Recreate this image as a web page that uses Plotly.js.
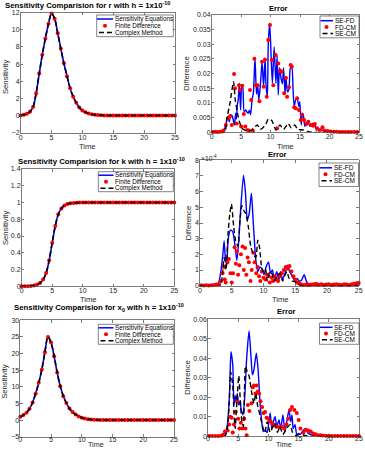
<!DOCTYPE html>
<html><head><meta charset="utf-8">
<script src="https://cdn.plot.ly/plotly-3.0.1.min.js"></script>
<style>html,body{margin:0;padding:0;background:#fff;} #chart{width:365px;height:450px;}</style>
</head><body><div id="chart"></div>
<script>
// ---------- DATA ----------
// common time grid for the sensitivity panels
const timeGrid = [0,0.5,1,1.5,2,2.5,3,3.5,4,4.5,5,5.5,6,6.5,7,7.5,8,8.5,9,9.5,10,10.5,11,11.5,12,12.5,13,13.5,14,14.5,15,15.5,16,16.5,17,17.5,18,18.5,19,19.5,20,20.5,21,21.5,22,22.5,23,23.5,24,24.5,25];
// sensitivity w.r.t. r (all three methods coincide)
const sensR = [0.02,0.08,0.2,0.45,1.0,2.6,4.9,7.1,9.0,10.7,11.9,11.3,9.6,7.8,6.1,4.6,3.2,2.2,1.5,0.95,0.6,0.38,0.24,0.15,0.09,0.06,0.04,0.02,0.01,0,0,0,0,0,0,0,0,0,0,0,0,0,0,0,0,0,0,0,0,0,0];
// sensitivity w.r.t. k
const sensK = [0,0,0.002,0.005,0.01,0.02,0.04,0.08,0.16,0.31,0.52,0.72,0.86,0.93,0.965,0.982,0.991,0.995,0.998,0.999,1,1,1,1,1,1,1,1,1,1,1,1,1,1,1,1,1,1,1,1,1,1,1,1,1,1,1,1,1,1,1];
// sensitivity w.r.t. x0
const sensX0 = [1.0,1.5,2.2,3.4,5.3,8.0,11.2,15.2,20.4,25.0,23.3,19.2,14.3,10.2,7.2,5.1,3.5,2.4,1.7,1.1,0.7,0.45,0.28,0.17,0.1,0.06,0.035,0.02,0.01,0,0,0,0,0,0,0,0,0,0,0,0,0,0,0,0,0,0,0,0,0,0];

// Error panel for r
const errR_SEFD_t = [0,1,1.8,2.1,2.4,2.7,3.0,3.2,3.5,3.85,4.07,4.2,4.35,4.5,4.7,4.9,5.1,5.3,5.5,5.8,6.0,6.2,6.4,6.6,6.85,7.07,7.35,7.6,7.8,8.0,8.26,8.55,8.8,9.05,9.2,9.45,9.6,9.85,10.1,10.3,10.6,10.9,11.1,11.3,11.5,11.8,12.0,12.2,12.45,12.6,12.85,13.1,13.35,13.6,13.8,14.0,14.25,14.5,14.8,14.95,15.2,15.4,15.55,15.8,16.0,16.3,16.7,17.1,17.5,17.8,18.4,19,20,21,25];
const errR_SEFD = [0,0,0.0001,0.0008,0.0025,0.0053,0.0036,0.006,0.0055,0.0025,0.0065,0.0045,0.0093,0.011,0.0167,0.0076,0.016,0.015,0.007,0.0076,0.0068,0.0065,0.0075,0.006,0.011,0.0133,0.0253,0.013,0.016,0.011,0.016,0.024,0.0155,0.025,0.0167,0.012,0.03,0.037,0.025,0.0167,0.029,0.0167,0.026,0.0127,0.022,0.018,0.0165,0.022,0.013,0.019,0.0138,0.0145,0.0218,0.022,0.015,0.0087,0.011,0.0115,0.0087,0.0104,0.0025,0.0065,0.006,0.002,0.003,0.0036,0.002,0.003,0.0025,0.0008,0.001,0.0005,0.0002,0.0001,0];
const errR_FDCM_t = [0.2,0.6,1.0,1.4,1.8,2.0,2.4,2.8,3.1,3.4,3.8,3.95,4.25,4.64,4.8,5.0,5.2,5.45,5.7,6.05,6.3,6.5,6.7,7.0,7.24,7.5,7.8,8.1,8.54,8.82,9.05,9.33,9.6,9.9,10.2,10.46,10.86,11.1,11.3,11.6,11.9,12.3,12.6,12.8,13.1,13.4,13.6,14.0,14.25,14.5,14.8,15.1,15.3,15.7,16.1,16.4,16.85,17.25,17.5,17.9,18.4,18.8,19.2,19.7,20.2,20.7,21.2,21.7,22.2,22.7,23.2,23.7,24.2,24.7];
const errR_FDCM = [0.0001,0.0002,0.0001,0.0002,0.0003,0.0006,0.0025,0.0048,0.0055,0.0025,0.0198,0.015,0.003,0.016,0.0144,0.002,0.0158,0.0062,0.002,0.0008,0.0006,0.0144,0.011,0.0005,0.025,0.016,0.016,0.0106,0.024,0.0155,0.0248,0.0121,0.0314,0.0365,0.0246,0.016,0.0263,0.0014,0.0234,0.021,0.0206,0.0133,0.0185,0.0121,0.0153,0.0229,0.0223,0.0085,0.0082,0.0116,0.0076,0.0042,0.0059,0.0042,0.0028,0.0036,0.0025,0.0022,0.0028,0.0014,0.0008,0.0017,0.0006,0.0004,0.0003,0.0002,0.0002,0.0001,0.0001,0.0001,0.0001,0.0001,0.0001,0.0001];
const errR_SECM_t = [0,2.2,2.55,3.1,3.7,4.0,4.5,5.1,5.6,6.2,6.8,7.1,7.75,8.2,8.5,9.2,9.6,10.2,10.9,11.6,12.2,13.0,13.5,14.1,14.6,15.5,16.2,17,25];
const errR_SECM = [0,0,0.0045,0.0099,0.0172,0.011,0.0053,0.0014,0.0008,0.0003,0.0008,0.0014,0.0025,0.001,0.0012,0.0028,0.0045,0.004,0.0008,0.0025,0.001,0.003,0.0015,0.0025,0.001,0.0008,0.0003,0,0];

// Error panel for k (values in units of 1e-4)
const errK_SEFD_t = [0,2.5,2.9,3.25,3.6,3.8,4.0,4.2,4.45,4.8,5.15,5.5,5.8,6.05,6.35,6.85,7.15,7.45,7.75,8.1,8.35,8.55,8.8,9.1,9.45,9.8,10.1,10.4,10.8,11.1,11.4,11.7,12.1,12.4,12.7,13.0,13.4,13.8,14.1,14.4,14.7,15.0,15.3,15.6,16.0,16.4,16.8,17.3,18,25];
const errK_SEFD = [0,0,0.15,0.8,2.0,2.85,1.75,1.4,3.0,3.55,3.45,2.6,1.6,2.6,4.5,7.05,6.0,4.2,4.6,5.9,4.3,3.0,1.6,0.9,1.2,1.05,0.7,1.2,1.5,0.8,1.0,0.47,0.9,0.35,0.9,0.4,0.8,1.3,0.9,0.7,0.47,0.25,0.47,0.3,0.35,0.7,0.25,0.08,0,0];
const errK_FDCM_t = [0.2,0.6,1.0,1.4,1.8,2.2,2.6,3.0,3.3,3.55,3.75,3.9,4.05,4.3,4.55,4.8,5.0,5.2,5.45,5.65,5.8,6.0,6.2,6.45,6.7,6.9,7.1,7.3,7.5,7.7,7.95,8.15,8.4,8.6,8.85,9.05,9.3,9.5,9.75,10.0,10.3,10.55,10.8,11.0,11.3,11.5,11.8,12.0,12.3,12.6,12.9,13.2,13.5,13.8,14.1,14.4,14.7,15.0,15.3,15.6,15.9,16.3,16.7,17.1,17.5,17.9,18.3,18.7,19.1,19.5,19.9,20.3,20.7,21.1,21.5,21.9,22.3,22.7,23.1,23.5,23.9,24.3,24.7,25.0];
const errK_FDCM = [0.03,0.02,0.03,0.02,0.03,0.05,0.08,0.1,0.3,0.8,1.2,0.4,0.2,1.5,1.7,0.8,0.2,0.8,2.45,1.4,2.2,0.7,1.3,2.0,2.5,1.0,2.4,0.7,1.8,1.5,0.3,1.0,2.1,1.5,0.8,1.2,0.6,0.3,0.9,0.5,0.4,0.7,0.6,0.2,0.5,0.3,0.6,0.4,0.3,0.6,0.8,1.0,1.2,1.1,1.25,0.9,0.6,0.4,0.2,0.15,0.1,0.05,0.08,0.05,0.07,0.1,0.12,0.06,0.1,0.05,0.08,0.1,0.05,0.08,0.1,0.06,0.05,0.1,0.08,0.05,0.1,0.12,0.15,0.18];
const errK_SECM_t = [0,3.2,3.5,3.8,4.1,4.4,4.7,4.95,5.3,5.6,6.0,6.3,6.6,6.9,7.2,7.6,8.0,8.4,8.8,9.1,9.4,9.7,10.0,10.3,10.6,11.0,11.3,11.7,12.1,12.6,13.0,13.4,13.7,14.0,14.5,15.0,15.5,16,25];
const errK_SECM = [0,0,0.6,1.8,1.0,3.2,4.6,5.2,3.8,2.9,2.5,4.2,5.1,4.8,4.6,3.8,2.5,2.0,1.8,2.9,2.4,1.2,0.9,1.1,0.3,0.9,0.8,0.3,0.6,0.8,0.3,0.7,0.9,0.5,0.3,0.25,0.1,0,0];

// Error panel for x0
const errX_SEFD_t = [0,2.5,2.8,3.2,3.55,3.8,4.1,4.3,4.5,4.7,4.85,5.1,5.3,5.5,5.8,6.1,6.4,6.8,7.1,7.35,7.6,8.0,8.3,8.6,8.9,9.15,9.5,9.8,10.05,10.3,10.55,10.9,11.1,11.4,11.75,12.05,12.4,12.75,13.0,13.4,13.7,13.9,14.1,14.4,14.7,15.0,15.3,15.8,16.2,16.6,17.2,18,19,25];
const errX_SEFD = [0,0,0.001,0.006,0.021,0.0434,0.0366,0.016,0.021,0.017,0.022,0.016,0.018,0.0135,0.011,0.021,0.040,0.054,0.0417,0.0315,0.034,0.0426,0.034,0.018,0.0075,0.0024,0.003,0.002,0.0067,0.012,0.004,0.0084,0.010,0.005,0.0084,0.004,0.011,0.0024,0.0067,0.0135,0.0075,0.011,0.004,0.006,0.0007,0.0015,0.001,0.0032,0.004,0.0015,0.0007,0.0002,0,0];
const errX_FDCM_t = [0.2,0.7,1.2,1.7,2.2,2.5,2.8,3.25,3.5,3.65,3.9,4.1,4.3,4.6,4.85,5.0,5.2,5.45,5.7,6.0,6.2,6.4,6.6,6.85,7.2,7.4,7.6,7.85,8.05,8.25,8.45,8.7,8.95,9.2,9.45,9.7,10.0,10.4,10.7,11.0,11.4,11.8,12.2,12.6,13.0,13.3,13.6,13.9,14.3,14.7,15.0,15.3,15.8,16.2,16.6,17.0,17.4,17.8,18.2,18.6,19.0,19.5,20.0,20.5,21.0,21.5,22.0,22.5,23.0,23.5,24.0,24.5,25.0];
const errX_FDCM = [0.0002,0.0001,0.0002,0.0002,0.0003,0.0008,0.0024,0.003,0.006,0.010,0.0095,0.002,0.006,0.0126,0.018,0.009,0.004,0.007,0.004,0.009,0.004,0.0005,0.016,0.013,0.017,0.025,0.026,0.022,0.026,0.023,0.022,0.018,0.015,0.012,0.0125,0.0095,0.009,0.0075,0.006,0.0055,0.005,0.0045,0.005,0.004,0.006,0.009,0.0135,0.015,0.0135,0.012,0.0084,0.004,0.002,0.0032,0.003,0.0024,0.0015,0.001,0.0006,0.0005,0.0004,0.0003,0.0003,0.0002,0.0002,0.0002,0.0001,0.0002,0.0001,0.0002,0.0001,0.0001,0.0002];
const errX_SECM_t = [0,2.8,3.2,3.5,3.75,4.1,4.3,4.5,4.75,5.1,5.3,5.6,5.85,6.2,6.5,6.8,7.2,7.6,7.9,8.2,8.6,9.05,9.4,9.8,10.3,11.0,11.5,11.9,12.4,13.0,13.6,14.0,14.5,15.2,16,17,25];
const errX_SECM = [0,0,0.004,0.016,0.033,0.026,0.012,0.004,0.016,0.031,0.021,0.008,0.005,0.036,0.033,0.031,0.023,0.017,0.022,0.016,0.011,0.005,0.002,0.0075,0.002,0.0067,0.002,0.005,0.001,0.004,0.006,0.002,0.0005,0.001,0.0005,0,0];

const leftLabels = ['Sensitivity Equations','Finite Difference','Complex Method'];
const rightLabels = ['SE-FD','FD-CM','SE-CM'];

// ---------- LAYOUT HELPERS ----------
const W=365,H=450;
const px=x=>x/W, py=y=>1-y/H;
const FONT='Liberation Sans, Arial, Helvetica, sans-serif';
const BLUE='#0000ff', RED='#ff0000', BLACK='#000000';

function mkAxis(d0,d1,range,dtick,anchor,isY,standoff){
  return {
    domain: isY ? [py(d1),py(d0)] : [px(d0),px(d1)],
    range: range, dtick: dtick, tick0: 0, anchor: anchor,
    showline:true, linecolor:'#444', linewidth:0.7, mirror:'ticks',
    ticks:'inside', ticklen:2.5, tickwidth:0.7, tickcolor:'#444',
    ticklabelstandoff: standoff,
    showgrid:false, zeroline:false, fixedrange:true,
    tickfont:{family:FONT,size:7,color:'#262626'}
  };
}

const traces=[];
function sensPanel(n, y){
  const xa='x'+(n===1?'':n), ya='y'+(n===1?'':n);
  traces.push({x:timeGrid,y:y,mode:'lines',line:{color:BLUE,width:1.6,shape:'spline'},xaxis:xa,yaxis:ya,showlegend:false});
  traces.push({x:timeGrid,y:y,mode:'markers',marker:{color:RED,size:4},cliponaxis:false,xaxis:xa,yaxis:ya,showlegend:false});
  traces.push({x:timeGrid,y:y,mode:'lines',line:{color:BLACK,width:1.6,dash:'5px,3px',shape:'spline'},xaxis:xa,yaxis:ya,showlegend:false});
}
function errPanel(n, t1,y1,t2,y2,t3,y3){
  const xa='x'+n, ya='y'+n;
  traces.push({x:t1,y:y1,mode:'lines',line:{color:BLUE,width:1.4,shape:'spline',smoothing:0.6},xaxis:xa,yaxis:ya,showlegend:false});
  traces.push({x:t2,y:y2,mode:'markers',marker:{color:RED,size:4},cliponaxis:false,xaxis:xa,yaxis:ya,showlegend:false});
  traces.push({x:t3,y:y3,mode:'lines',line:{color:BLACK,width:1.4,dash:'5px,3px',shape:'spline',smoothing:0.6},xaxis:xa,yaxis:ya,showlegend:false});
}
sensPanel(1,sensR);
errPanel(2,errR_SEFD_t,errR_SEFD,errR_FDCM_t,errR_FDCM,errR_SECM_t,errR_SECM);
sensPanel(3,sensK);
errPanel(4,errK_SEFD_t,errK_SEFD,errK_FDCM_t,errK_FDCM,errK_SECM_t,errK_SECM);
sensPanel(5,sensX0);
errPanel(6,errX_SEFD_t,errX_SEFD,errX_FDCM_t,errX_FDCM,errX_SECM_t,errX_SECM);

const shapes=[], annotations=[];
function ann(x,y,text,size,opts){
  annotations.push(Object.assign({xref:'paper',yref:'paper',x:px(x),y:py(y),text:text,showarrow:false,
    xanchor:'center',yanchor:'middle',borderpad:0,font:{family:FONT,size:size,color:'#000'}},opts||{}));
}
function addLegend(box, rows, sampX, dotX, textX, labels, fs){
  shapes.push({type:'rect',xref:'paper',yref:'paper',x0:px(box[0]),x1:px(box[2]),y0:py(box[3]),y1:py(box[1]),
    line:{color:'#333',width:0.6},fillcolor:'#ffffff',layer:'above'});
  shapes.push({type:'line',xref:'paper',yref:'paper',x0:px(sampX[0]),x1:px(sampX[1]),y0:py(rows[0]),y1:py(rows[0]),line:{color:BLUE,width:1.5}});
  const r=2;
  shapes.push({type:'circle',xref:'paper',yref:'paper',x0:px(dotX-r),x1:px(dotX+r),y0:py(rows[1]+r),y1:py(rows[1]-r),fillcolor:RED,line:{width:0}});
  shapes.push({type:'line',xref:'paper',yref:'paper',x0:px(sampX[0]+2),x1:px(sampX[1]),y0:py(rows[2]),y1:py(rows[2]),line:{color:BLACK,width:1.5,dash:'5px,3px'}});
  labels.forEach((lab,i)=>ann(textX,rows[i],lab,fs,{xanchor:'left'}));
}

// legends
addLegend([96.7,15,173.3,36.7],[19,25.8,32.6],[97,113],105,113.5,leftLabels,6.3);
addLegend([320,16,359,37.8],[20.7,27,33.5],[320.5,333],326.5,333.8,rightLabels,6.5);
addLegend([98.3,171.7,173.3,191.7],[175.2,181.7,188.2],[98.5,113.5],106,114,leftLabels,6.3);
addLegend([319,163,358.5,186.5],[167.8,174.3,180.8],[319.5,332],325.5,332.8,rightLabels,6.5);
addLegend([98.3,324.3,173.3,344.3],[327.8,334.3,340.8],[98.5,113.5],106,114,leftLabels,6.3);
addLegend([319.5,323,359,344.3],[327.3,333.5,339.7],[320,332.5],326,333.3,rightLabels,6.5);

// titles (bold via font weight)
const bf=(s)=>({family:FONT,size:s,color:'#000',weight:'bold'});
ann(4.3,5,'Sensitivity Comparision for r with h = 1x10<sup>-10</sup>',7.8,{xanchor:'left',font:bf(7.8)});
ann(16.7,161.3,'Sensitivity Comparision for k with h = 1x10<sup>-10</sup>',7.8,{xanchor:'left',font:bf(7.8)});
ann(13.3,307.5,'Sensitivity Comparision for x<sub>0</sub> with h = 1x10<sup>-10</sup>',7.8,{xanchor:'left',font:bf(7.8)});
ann(278,8.5,'Error',7.6,{font:bf(7.6)});
ann(277.7,154.5,'Error',7.6,{font:bf(7.6)});
ann(286,311.2,'Error',7.6,{font:bf(7.6)});
// axis titles
const tf={family:FONT,size:7.6,color:'#262626'};
[[87.5,146],[285,146],[88,299.5],[280,299.5]].forEach(p=>ann(p[0],p[1],'Time',7.6,{font:tf}));
[[96,450],[284,450]].forEach(p=>ann(p[0],p[1],'Time',7.2,{font:{family:FONT,size:7.2,color:'#262626'},yanchor:'bottom'}));
[[5,77,'Sensitivity'],[186.7,74,'Difference'],[5,228,'Sensitivity'],[188.3,223,'Difference'],[5,381.7,'Sensitivity'],[186.7,378,'Difference']]
  .forEach(p=>ann(p[0],p[1],p[2],7.6,{textangle:-90,font:tf}));
// exponent label of the k error panel
ann(200,157.5,'×10<sup>-4</sup>',6.8,{xanchor:'left',font:{family:FONT,size:6.8,color:'#262626'}});

const layout={
  width:W,height:H,margin:{l:0,r:0,t:0,b:0},paper_bgcolor:'#fff',plot_bgcolor:'#fff',showlegend:false,
  xaxis: mkAxis(20.7,175,[0,25],5,'y',false,-2),
  yaxis: mkAxis(12.7,132.7,[-2,12],2,'x',true,-1),
  xaxis2: mkAxis(211.7,359,[0,25],5,'y2',false,-2),
  yaxis2: mkAxis(14.7,132.3,[0,0.04],0.005,'x2',true,-1),
  xaxis3: mkAxis(21.7,174.3,[0,25],5,'y3',false,-2),
  yaxis3: mkAxis(169,286.3,[0,1.4],0.2,'x3',true,-1),
  xaxis4: mkAxis(200,358.7,[0,25],5,'y4',false,-2),
  yaxis4: mkAxis(160.3,285.7,[0,8],1,'x4',true,-1),
  xaxis5: mkAxis(20.3,174,[0,25],5,'y5',false,-4),
  yaxis5: mkAxis(320.3,436.7,[-5,30],5,'x5',true,-1),
  xaxis6: mkAxis(208,359,[0,25],5,'y6',false,-4),
  yaxis6: mkAxis(319.3,436.3,[0,0.06],0.01,'x6',true,-1),
  shapes:shapes, annotations:annotations
};
Plotly.newPlot('chart',traces,layout,{staticPlot:true,displayModeBar:false});
</script></body></html>
